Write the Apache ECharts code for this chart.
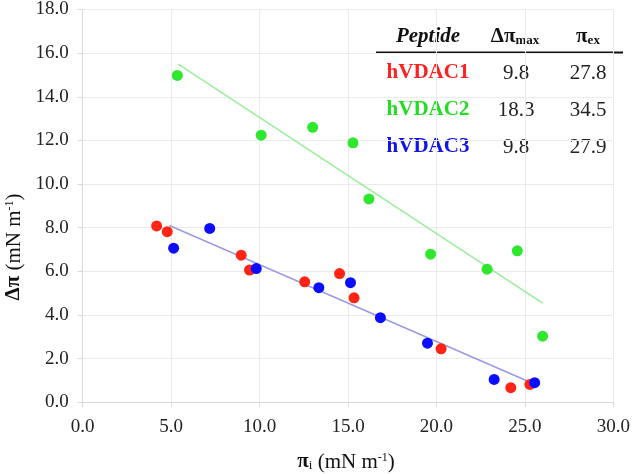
<!DOCTYPE html>
<html><head><meta charset="utf-8">
<script src="https://cdn.jsdelivr.net/npm/echarts@6/dist/echarts.min.js"></script>
<style>html,body{margin:0;padding:0;background:#fff}#c{width:633px;height:474px}</style>
</head><body><div id="c"></div>
<script>
// Data
const hVDAC1 = [[4.18,8.08],[4.78,7.82],[8.96,6.74],[9.43,6.06],[12.55,5.52],[14.52,5.90],[15.34,4.79],[20.26,2.45],[24.20,0.67],[25.28,0.82]];
const hVDAC2 = [[5.35,14.98],[10.09,12.24],[13.00,12.60],[15.28,11.89],[16.18,9.32],[19.67,6.79],[22.86,6.10],[24.57,6.94],[26.00,3.03]];
const hVDAC3 = [[5.14,7.06],[7.18,7.97],[9.81,6.13],[13.35,5.25],[15.14,5.48],[16.83,3.88],[19.49,2.71],[23.26,1.05],[25.55,0.90]];
const fitHVDAC2 = [[5.4,15.5],[26.0,4.55]];
const fitHVDAC13 = [[4.9,8.1],[25.3,0.92]];
const peptides = ['hVDAC1','hVDAC2','hVDAC3'];
const dPiMax = ['9.8','18.3','9.8'];
const piEx = ['27.8','34.5','27.9'];

const FONT = '"Liberation Serif","Times New Roman",serif';
const COLORS = {red:'#ff2414', green:'#2ee82e', blue:'#0c0cff'};
const TEXTCOL = ['#ff2020','#22dd22','#1414e6'];

const chart = echarts.init(document.getElementById('c'));

const rowY = [73, 110, 147];
const graphics = [];
// table header
graphics.push({type:'text', x:428, y:37, style:{text:'Peptide', font:'italic bold 21px '+FONT, fill:'#111', align:'center', verticalAlign:'middle'}});
graphics.push({type:'text', x:515, y:37, style:{text:'{b|Δπ}{s|max}', align:'center', verticalAlign:'middle', rich:{b:{font:'bold 21px '+FONT, fill:'#111'}, s:{font:'bold 13px '+FONT, fill:'#111', verticalAlign:'bottom', padding:[8,0,0,0]}}}});
graphics.push({type:'text', x:588, y:37, style:{text:'{b|π}{s|ex}', align:'center', verticalAlign:'middle', rich:{b:{font:'bold 21px '+FONT, fill:'#111'}, s:{font:'bold 13px '+FONT, fill:'#111', verticalAlign:'bottom', padding:[8,0,0,0]}}}});
graphics.push({type:'line', shape:{x1:376,y1:52.5,x2:623,y2:52.5}, style:{stroke:'#111', lineWidth:2}});
for (let i=0;i<3;i++){
  graphics.push({type:'text', x:428, y:rowY[i], style:{text:peptides[i], font:'bold 21px '+FONT, fill:TEXTCOL[i], align:'center', verticalAlign:'middle'}});
  graphics.push({type:'text', x:516, y:rowY[i], style:{text:dPiMax[i], font:'21px '+FONT, fill:'#222', align:'center', verticalAlign:'middle'}});
  graphics.push({type:'text', x:588, y:rowY[i], style:{text:piEx[i], font:'21px '+FONT, fill:'#222', align:'center', verticalAlign:'middle'}});
}
// axis titles
graphics.push({type:'text', x:346, y:462, style:{text:'{b|π}{s|i}{n| (mN m}{p|-1}{n|)}', align:'center', verticalAlign:'middle',
  rich:{b:{font:'bold 21px '+FONT, fill:'#111'}, s:{font:'13px '+FONT, fill:'#111', verticalAlign:'bottom', padding:[8,0,0,0]}, n:{font:'21px '+FONT, fill:'#111'}, p:{font:'12px '+FONT, fill:'#111', verticalAlign:'top', padding:[0,0,8,0]}}}});
graphics.push({type:'text', x:14, y:247, rotation:Math.PI/2, style:{text:'{b|Δπ}{n| (mN m}{p|-1}{n|)}', align:'center', verticalAlign:'middle',
  rich:{b:{font:'bold 21px '+FONT, fill:'#111'}, n:{font:'21px '+FONT, fill:'#111'}, p:{font:'12px '+FONT, fill:'#111', verticalAlign:'top', padding:[0,0,8,0]}}}});

const axisCommon = {
  axisLine:{show:true, lineStyle:{color:'#d9d9d9', width:1}},
  axisTick:{show:true, length:5, lineStyle:{color:'#d9d9d9'}},
  splitLine:{show:true, lineStyle:{color:'#ebebeb', width:1}},
  axisLabel:{fontFamily:FONT, fontSize:19, color:'#222', formatter:v=>v.toFixed(1)}
};

chart.setOption({
  animation:false,
  grid:{left:82.7, right:17.3, top:7.9, bottom:71.7},
  xAxis:Object.assign({type:'value', min:0, max:30, interval:5}, axisCommon, {axisLabel:Object.assign({}, axisCommon.axisLabel, {margin:15})}),
  yAxis:Object.assign({type:'value', min:0, max:18, interval:2}, axisCommon, {axisLabel:Object.assign({}, axisCommon.axisLabel, {margin:14})}),
  graphic:graphics,
  series:[
    {type:'line', data:fitHVDAC2, symbol:'none', lineStyle:{color:'#9aee9a', width:1.5}, z:1},
    {type:'line', data:fitHVDAC13, symbol:'none', lineStyle:{color:'#9a9ae2', width:1.5}, z:1},
    {name:'hVDAC2', type:'scatter', data:hVDAC2, symbol:'circle', symbolSize:11, itemStyle:{color:COLORS.green, opacity:1}, z:3},
    {name:'hVDAC1', type:'scatter', data:hVDAC1, symbol:'circle', symbolSize:11, itemStyle:{color:COLORS.red, opacity:1}, z:3},
    {name:'hVDAC3', type:'scatter', data:hVDAC3, symbol:'circle', symbolSize:11, itemStyle:{color:COLORS.blue, opacity:1}, z:4}
  ]
});
</script></body></html>
